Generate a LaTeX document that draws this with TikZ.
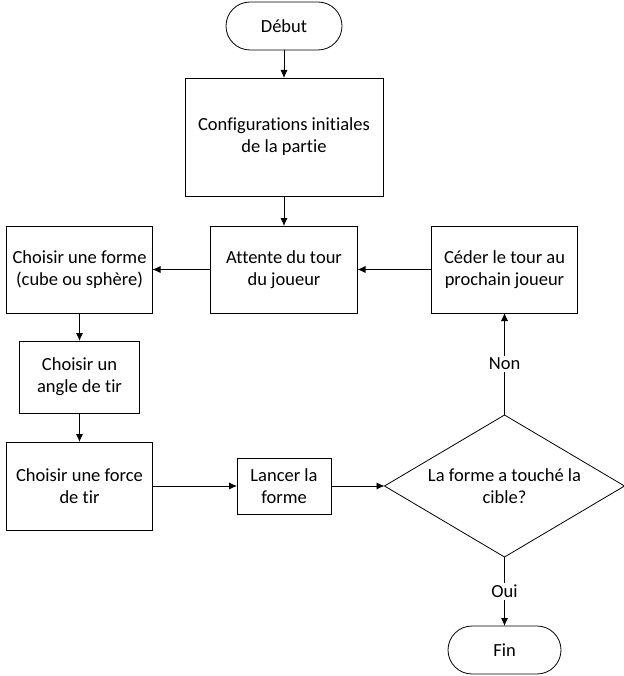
\documentclass[tikz,border=0pt]{standalone}
\usepackage{fontspec}
\setmainfont{Carlito}[Ligatures=NoCommon]
\usetikzlibrary{positioning}
\usetikzlibrary{shapes.geometric}
\usetikzlibrary{arrows.meta}

\tikzset{
  every node/.style={font=\fontsize{18.5}{22}\selectfont, align=center},
  etape/.style={draw, line width=0.8pt, inner sep=2pt, outer sep=0pt},
  terminal/.style={draw, line width=0.8pt, rounded corners=24pt,
    minimum height=48pt, outer sep=0pt},
  test/.style={draw, diamond, line width=0.8pt, aspect=1.69,
    minimum width=240pt, minimum height=142pt, inner sep=0pt, outer sep=0pt},
  fleche/.style={-{Latex[length=8pt,width=7pt]}, line width=0.8pt},
  reponse/.style={fill=white, inner sep=2pt}
}

\begin{document}
\begin{tikzpicture}
  \useasboundingbox (0,0) rectangle (623pt,-676pt);

  \node [terminal, minimum width=116pt] (debut) at (284pt,-26pt) {Début};
  \node [etape, below=28pt of debut, minimum width=198pt, minimum height=118pt]
    (config) {Configurations initiales\\de la partie};
  \node [etape, below=30pt of config.south -| debut, anchor=north,
    minimum width=147pt, minimum height=87pt]
    (attente) {Attente du tour\\du joueur};
  \node [etape, left=58pt of attente, minimum width=146pt, minimum height=87pt]
    (forme) {Choisir une forme\\(cube ou sphère)};
  \node [etape, right=74pt of attente, minimum width=146pt, minimum height=87pt]
    (ceder) {Céder le tour au\\prochain joueur};

  \node [etape, below=28pt of forme, minimum width=120pt, minimum height=72pt]
    (angle) {Choisir un\\angle de tir};
  \node [etape, below=29pt of angle, minimum width=146pt, minimum height=88pt]
    (force) {Choisir une force\\de tir};
  \node [etape, minimum width=94pt, minimum height=56pt]
    at (attente |- force) (lancer) {Lancer la\\forme};
  \node [test] at (ceder |- force) (touche) {La forme a touché la\\cible?};
  \node [terminal, below=69pt of touche, minimum width=113pt] (fin) {Fin};

  \draw [fleche] (debut) -- (config);
  \draw [fleche] (config.south -| attente) -- (attente);
  \draw [fleche] (attente) -- (forme);
  \draw [fleche] (ceder) -- (attente);
  \draw [fleche] (forme) -- (angle);
  \draw [fleche] (angle) -- (force);
  \draw [fleche] (force) -- (lancer);
  \draw [fleche] (lancer) -- (touche);
  \draw [fleche] (touche) -- node [reponse] {Non} (ceder);
  \draw [fleche] (touche) -- node [reponse] {Oui} (fin);

\end{tikzpicture}
\end{document}
